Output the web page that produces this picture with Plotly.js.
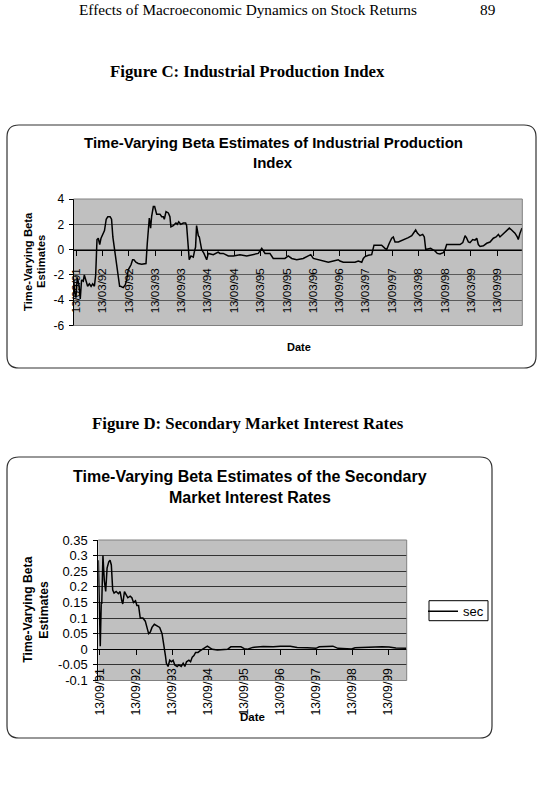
<!DOCTYPE html>
<html>
<head>
<meta charset="utf-8">
<script src="https://cdn.plot.ly/plotly-3.0.1.min.js"></script>
<style>
  html, body { margin: 0; padding: 0; background: #ffffff; }
  #page { width: 537px; height: 788px; }
</style>
</head>
<body>
<div id="page"></div>
<script>
// ---- Figure C: time-varying beta of the industrial production index ----
const ipDates = [
  '1991-08-26','1991-09-02','1991-09-11','1991-09-20','1991-10-02','1991-10-11','1991-10-20','1991-11-01',
  '1991-11-08','1991-11-20','1991-12-01','1991-12-13','1991-12-25','1992-01-05','1992-01-17','1992-01-26',
  '1992-02-04','1992-02-13','1992-02-23','1992-03-03','1992-03-15','1992-03-27','1992-04-08','1992-04-19',
  '1992-05-05','1992-05-15','1992-05-24','1992-06-03','1992-06-12','1992-06-26','1992-07-10','1992-07-17',
  '1992-08-04','1992-08-18','1992-08-28','1992-09-08','1992-09-20','1992-09-27','1992-10-08','1992-10-17',
  '1992-10-31','1992-11-16','1992-12-10','1993-01-09','1993-01-18','1993-02-01','1993-02-10','1993-02-17',
  '1993-03-01','1993-03-10','1993-03-24','1993-04-16','1993-04-28','1993-05-09','1993-05-16','1993-05-28',
  '1993-06-13','1993-06-24','1993-07-01','1993-07-17','1993-08-05','1993-08-14','1993-08-24','1993-09-07',
  '1993-09-25','1993-10-11','1993-10-18','1993-10-25','1993-11-05','1993-11-17','1993-12-03','1993-12-12',
  '1993-12-19','1993-12-26','1994-01-07','1994-01-14','1994-01-30','1994-02-15','1994-03-06','1994-03-17',
  '1994-04-21','1994-05-25','1994-06-06','1994-06-29','1994-08-03','1994-09-07','1994-10-23','1994-12-09',
  '1995-01-23','1995-02-27','1995-03-23','1995-04-15','1995-05-19','1995-06-11','1995-07-28','1995-08-31',
  '1995-09-23','1995-10-17','1995-11-21','1996-01-05','1996-02-09','1996-02-26','1996-03-15','1996-04-19',
  '1996-05-24','1996-06-27','1996-08-01','1996-09-04','1996-09-16','1996-10-09','1996-11-25','1996-12-29',
  '1997-01-21','1997-02-14','1997-02-25','1997-03-09','1997-04-01','1997-04-24','1997-05-10','1997-06-09',
  '1997-07-02','1997-07-25','1997-08-06','1997-08-24','1997-09-10','1997-09-21','1997-10-03','1997-10-26',
  '1997-11-18','1997-12-11','1998-01-03','1998-01-27','1998-02-14','1998-02-23','1998-03-07','1998-03-25',
  '1998-04-13','1998-04-24','1998-05-04','1998-05-22','1998-06-07','1998-06-21','1998-07-07','1998-07-23',
  '1998-08-11','1998-09-03','1998-09-15','1998-09-26','1998-10-20','1998-11-23','1998-12-28','1999-01-16',
  '1999-02-01','1999-02-12','1999-02-24','1999-03-07','1999-03-26','1999-04-11','1999-04-23','1999-05-04',
  '1999-05-16','1999-06-08','1999-07-01','1999-07-24','1999-08-16','1999-09-04','1999-09-20','1999-10-01',
  '1999-10-20','1999-11-17','1999-12-05','1999-12-21','2000-01-13','2000-01-29','2000-02-05','2000-02-17',
  '2000-03-02'
];
const ipBeta = [
  -2.3,-3.4,-3.8,-2.2,-2.8,-3.9,-2.4,-2.5,
  -2.0,-2.6,-2.9,-2.7,-2.9,-2.7,-2.9,-2.0,
  0.8,0.9,0.4,0.9,1.2,1.5,2.4,2.6,
  2.6,2.4,1.0,0.1,-0.3,-1.5,-2.9,-2.9,
  -3.0,-2.8,-2.4,-1.6,-1.4,-1.2,-0.8,-0.8,
  -1.0,-1.1,-1.15,-1.1,0.5,2.5,1.7,2.6,
  3.4,3.4,2.8,2.8,2.6,2.6,2.4,3.0,
  2.9,2.6,1.8,1.9,2.1,2.0,2.2,2.0,
  2.1,2.1,1.9,0.5,-0.8,-0.5,-0.6,-0.1,
  0.2,1.9,1.1,1.0,0.0,-0.3,-0.8,-0.3,
  -0.4,-0.2,-0.3,-0.3,-0.5,-0.5,-0.4,-0.5,
  -0.4,-0.3,0.1,-0.3,-0.3,-0.7,-0.7,-0.7,
  -0.5,-0.7,-0.8,-0.7,-0.5,-0.4,-0.7,-0.8,
  -0.95,-1.0,-0.9,-0.8,-0.9,-1.0,-1.0,-1.0,
  -0.9,-1.0,-0.7,-0.55,-0.45,-0.4,0.35,0.35,
  0.35,0.1,0.0,0.5,0.9,1.0,0.6,0.6,
  0.7,0.8,0.95,1.1,1.35,1.55,1.3,1.1,
  1.2,1.0,0.0,0.05,0.1,0.0,-0.1,-0.3,
  -0.35,-0.25,0.0,0.4,0.4,0.45,0.4,0.55,
  1.1,0.9,0.6,0.55,0.8,0.75,0.9,0.4,
  0.25,0.3,0.5,0.6,0.9,1.0,1.2,1.0,
  1.2,1.5,1.7,1.55,1.3,1.0,0.8,1.3,
  1.7
];
const ipTickDates = [
  '1991-09-13','1992-03-13','1992-09-13','1993-03-13','1993-09-13','1994-03-13','1994-09-13','1995-03-13',
  '1995-09-13','1996-03-13','1996-09-13','1997-03-13','1997-09-13','1998-03-13','1998-09-13','1999-03-13',
  '1999-09-13'
];
const ipTickText = [
  '13/09/91','13/03/92','13/09/92','13/03/93','13/09/93','13/03/94','13/09/94','13/03/95',
  '13/09/95','13/03/96','13/09/96','13/03/97','13/09/97','13/03/98','13/09/98','13/03/99',
  '13/09/99'
];
const ipYTicks = [-6, -4, -2, 0, 2, 4];
const ipYText = ['-6', '-4', '-2', '0', '2', '4'];

// ---- Figure D: time-varying beta of the secondary market interest rates ----
const secDates = [
  '1991-08-27','1991-09-16','1991-09-26','1991-10-01','1991-10-13','1991-10-27','1991-11-10','1991-11-24',
  '1991-12-11','1991-12-24','1992-01-06','1992-01-20','1992-02-03','1992-02-24','1992-03-18','1992-04-04',
  '1992-04-21','1992-05-01','1992-05-18','1992-06-04','1992-06-21','1992-07-15','1992-08-01','1992-08-18',
  '1992-09-07','1992-09-21','1992-10-08','1992-10-25','1992-11-21','1992-12-15','1993-01-01','1993-01-18',
  '1993-02-04','1993-02-21','1993-03-17','1993-04-13','1993-05-10','1993-06-03','1993-06-20','1993-07-07',
  '1993-07-17','1993-08-03','1993-08-20','1993-09-06','1993-09-23','1993-10-10','1993-11-03','1993-11-20',
  '1993-12-14','1994-01-03','1994-01-20','1994-02-06','1994-03-02','1994-03-19','1994-04-05','1994-04-22',
  '1994-05-09','1994-06-02','1994-06-22','1994-07-16','1994-08-09','1994-09-05','1994-09-28','1994-10-25',
  '1994-12-16','1995-02-22','1995-03-28','1995-05-01','1995-06-21','1995-08-11','1995-09-14','1995-10-18',
  '1995-12-09','1996-03-24','1996-07-04','1996-09-13','1996-12-24','1997-03-03','1997-06-13','1997-09-09',
  '1997-10-13','1998-01-07','1998-02-28','1998-04-20','1998-06-28','1998-09-05','1998-10-11','1999-01-20',
  '1999-03-31','1999-07-11','1999-09-20','1999-11-28','2000-03-15'
];
const secBeta = [
  0.285,0.01,0.15,0.145,0.30,0.22,0.185,0.26,
  0.28,0.285,0.27,0.19,0.18,0.185,0.178,0.185,
  0.155,0.145,0.185,0.175,0.165,0.17,0.165,0.15,
  0.155,0.14,0.14,0.10,0.10,0.09,0.07,0.05,
  0.055,0.07,0.08,0.075,0.07,0.05,0.02,-0.02,
  -0.045,-0.055,-0.035,-0.04,-0.035,-0.05,-0.055,-0.05,
  -0.055,-0.045,-0.055,-0.04,-0.035,-0.04,-0.025,-0.02,
  -0.01,-0.01,-0.005,0.0,0.003,0.01,0.005,0.0,
  -0.002,-0.002,0.0,0.008,0.008,0.008,0.002,0.0,
  0.006,0.009,0.008,0.01,0.01,0.006,0.005,0.003,
  0.008,0.009,0.01,0.003,0.001,0.001,0.005,0.006,
  0.008,0.008,0.007,0.004,0.003
];
const secTickDates = [
  '1991-09-13','1992-09-13','1993-09-13','1994-09-13','1995-09-13','1996-09-13','1997-09-13','1998-09-13',
  '1999-09-13'
];
const secTickText = [
  '13/09/91','13/09/92','13/09/93','13/09/94','13/09/95','13/09/96','13/09/97','13/09/98','13/09/99'
];
const secYTicks = [-0.1, -0.05, 0, 0.05, 0.1, 0.15, 0.2, 0.25, 0.3, 0.35];
const secYText = ['-0.1', '-0.05', '0', '0.05', '0.1', '0.15', '0.2', '0.25', '0.3', '0.35'];

// ---- page geometry helpers (pixel -> paper fraction) ----
const W = 537, H = 788;
const fx = v => v / W;
const fy = v => 1 - v / H;
const SANS = 'Liberation Sans, Arial, sans-serif';
const SERIF = 'Liberation Serif, Times New Roman, serif';

function roundedBox(x0, y0, x1, y1, r) {
  const p = (x, y) => fx(x).toFixed(5) + ',' + fy(y).toFixed(5);
  return 'M' + p(x0 + r, y0) + ' L' + p(x1 - r, y0) + ' Q' + p(x1, y0) + ' ' + p(x1, y0 + r) +
         ' L' + p(x1, y1 - r) + ' Q' + p(x1, y1) + ' ' + p(x1 - r, y1) +
         ' L' + p(x0 + r, y1) + ' Q' + p(x0, y1) + ' ' + p(x0, y1 - r) +
         ' L' + p(x0, y0 + r) + ' Q' + p(x0, y0) + ' ' + p(x0 + r, y0) + ' Z';
}

// x axis crosses the value axis at zero
function zeroPos(dom, range) {
  return dom[0] + (0 - range[0]) / (range[1] - range[0]) * (dom[1] - dom[0]);
}

const ipYRange = [-6, 4];
const ipYDom = [fy(325.5), fy(199)];
const secYRange = [-0.1, 0.35];
const secYDom = [fy(680.5), fy(540)];

const traces = [
  {
    x: ipDates, y: ipBeta, xaxis: 'x', yaxis: 'y', type: 'scatter', mode: 'lines',
    line: { color: '#000000', width: 1.5 }, showlegend: false, name: 'ip'
  },
  {
    x: secDates, y: secBeta, xaxis: 'x2', yaxis: 'y2', type: 'scatter', mode: 'lines',
    line: { color: '#000000', width: 1.5 }, showlegend: true, name: 'sec'
  }
];

function txt(text, x, y, size, opts) {
  return Object.assign({
    text: text, x: fx(x), y: fy(y), xref: 'paper', yref: 'paper',
    xanchor: 'center', yanchor: 'middle', showarrow: false,
    font: { family: SANS, size: size, color: '#000000' }
  }, opts || {});
}

const annotations = [
  txt('Effects of Macroeconomic Dynamics on Stock Returns', 247.5, 10, 15.3, { font: { family: SERIF, size: 15.3, color: '#000' } }),
  txt('89', 487.5, 10, 15.3, { font: { family: SERIF, size: 15.3, color: '#000' } }),
  txt('<b>Figure C: Industrial Production Index</b>', 247, 71, 16.8, { font: { family: SERIF, size: 16.8, color: '#000' } }),
  txt('<b>Figure D: Secondary Market Interest Rates</b>', 247.5, 424, 16.8, { font: { family: SERIF, size: 16.8, color: '#000' } }),

  txt('<b>Time-Varying Beta Estimates of Industrial Production</b>', 273, 142.7, 15),
  txt('<b>Index</b>', 273, 162.3, 15),
  txt('<b>Time-Varying Beta</b>', 28, 262, 11.3, { textangle: -90 }),
  txt('<b>Estimates</b>', 41, 262, 11.3, { textangle: -90 }),
  txt('<b>Date</b>', 299, 346.7, 11),

  txt('<b>Time-Varying Beta Estimates of the Secondary</b>', 249.5, 477, 16),
  txt('<b>Market Interest Rates</b>', 249.5, 497.7, 16),
  txt('<b>Time-Varying Beta</b>', 28, 609.7, 12.2, { textangle: -90 }),
  txt('<b>Estimates</b>', 44, 609.7, 12.2, { textangle: -90 }),
  txt('<b>Date</b>', 252, 717, 11.5)
];

const frame3 = (xr, yr) => ({
  type: 'path', xref: xr, yref: yr, path: 'M0,0 L1,0 L1,1 L0,1',
  line: { color: '#808080', width: 1 }, layer: 'above'
});

const shapes = [
  { type: 'path', xref: 'paper', yref: 'paper', path: roundedBox(7, 125, 536, 368, 12),
    line: { color: '#333333', width: 1.2 }, fillcolor: 'rgba(0,0,0,0)' },
  { type: 'path', xref: 'paper', yref: 'paper', path: roundedBox(7, 457, 492, 738, 12),
    line: { color: '#333333', width: 1.2 }, fillcolor: 'rgba(0,0,0,0)' },
  // legend frame
  { type: 'rect', xref: 'paper', yref: 'paper', x0: fx(429), x1: fx(488), y0: fy(620.7), y1: fy(600.7),
    line: { color: '#000000', width: 1 }, fillcolor: 'rgba(0,0,0,0)' },
  frame3('x domain', 'y domain'),
  frame3('x2 domain', 'y2 domain')
];

const layout = {
  width: W, height: H,
  margin: { l: 0, r: 0, t: 0, b: 0 },
  paper_bgcolor: '#ffffff',
  plot_bgcolor: '#c0c0c0',
  showlegend: true,
  legend: {
    x: fx(423), y: fy(596.2), xanchor: 'left', yanchor: 'top',
    borderwidth: 0, bgcolor: 'rgba(0,0,0,0)',
    font: { family: SANS, size: 13, color: '#000000' }, itemwidth: 30
  },
  xaxis: {
    domain: [fx(73.5), fx(522.3)], anchor: 'free', position: zeroPos(ipYDom, ipYRange),
    type: 'date', range: ['1991-08-25', '2000-03-04'],
    tickmode: 'array', tickvals: ipTickDates, ticktext: ipTickText, tickangle: -90,
    ticks: 'outside', ticklen: 5, tickcolor: '#000', showline: true, linecolor: '#000', linewidth: 1,
    showgrid: false, zeroline: false, ticklabelstandoff: 8,
    tickfont: { family: SANS, size: 11.6, color: '#000' }, fixedrange: true
  },
  yaxis: {
    domain: ipYDom, anchor: 'x', range: ipYRange,
    tickmode: 'array', tickvals: ipYTicks, ticktext: ipYText,
    ticks: 'outside', ticklen: 4, tickcolor: '#000', showline: true, linecolor: '#000', linewidth: 1,
    showgrid: true, gridcolor: '#5a5a5a', gridwidth: 1, zeroline: false, ticklabelstandoff: 2,
    tickfont: { family: SANS, size: 12, color: '#000' }, fixedrange: true
  },
  xaxis2: {
    domain: [fx(98.3), fx(406.7)], anchor: 'free', position: zeroPos(secYDom, secYRange),
    type: 'date', range: ['1991-08-27', '2000-03-17'],
    tickmode: 'array', tickvals: secTickDates, ticktext: secTickText, tickangle: -90,
    ticks: 'outside', ticklen: 5, tickcolor: '#000', showline: true, linecolor: '#000', linewidth: 1,
    showgrid: false, zeroline: false, ticklabelstandoff: 8,
    tickfont: { family: SANS, size: 12.2, color: '#000' }, fixedrange: true
  },
  yaxis2: {
    domain: secYDom, anchor: 'x2', range: secYRange,
    tickmode: 'array', tickvals: secYTicks, ticktext: secYText,
    ticks: 'outside', ticklen: 4, tickcolor: '#000', showline: true, linecolor: '#000', linewidth: 1,
    showgrid: true, gridcolor: '#333333', gridwidth: 1, zeroline: false, ticklabelstandoff: 3,
    tickfont: { family: SANS, size: 13, color: '#000' }, fixedrange: true
  },
  annotations: annotations,
  shapes: shapes
};

Plotly.newPlot('page', traces, layout, { staticPlot: true, displayModeBar: false });
</script>
</body>
</html>
